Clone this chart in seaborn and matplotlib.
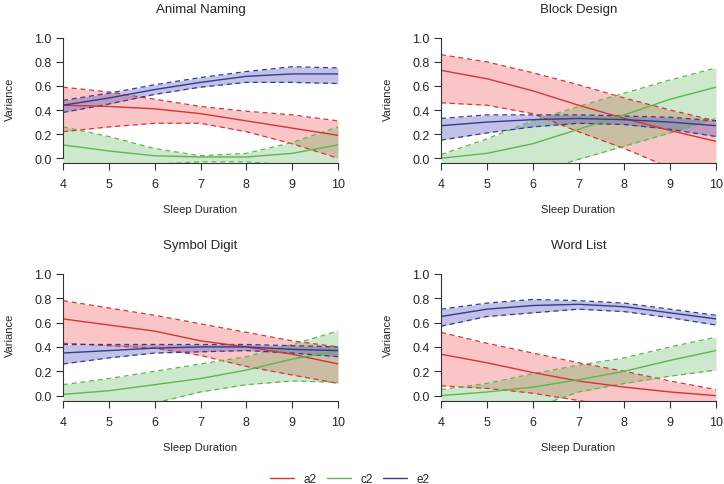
import matplotlib
matplotlib.use("Agg")
import matplotlib.pyplot as plt
import seaborn as sns
import pandas as pd
import numpy as np

sleep = [4, 5, 6, 7, 8, 9, 10]
panels = ["Animal Naming", "Block Design", "Symbol Digit", "Word List"]
components = ["a2", "c2", "e2"]

# Animal Naming
an_a2 = [0.44, 0.43, 0.41, 0.37, 0.31, 0.25, 0.19]
an_a2_lo = [0.22, 0.26, 0.29, 0.29, 0.22, 0.12, 0.00]
an_a2_hi = [0.59, 0.55, 0.49, 0.43, 0.39, 0.36, 0.31]
an_c2 = [0.11, 0.06, 0.02, 0.01, 0.01, 0.04, 0.11]
an_c2_lo = [-0.10, -0.08, -0.05, -0.03, -0.03, -0.06, -0.10]
an_c2_hi = [0.26, 0.18, 0.08, 0.02, 0.04, 0.13, 0.26]
an_e2 = [0.44, 0.50, 0.57, 0.63, 0.68, 0.70, 0.70]
an_e2_lo = [0.38, 0.45, 0.53, 0.59, 0.63, 0.63, 0.62]
an_e2_hi = [0.48, 0.54, 0.61, 0.67, 0.72, 0.76, 0.75]

# Block Design
bd_a2 = [0.73, 0.66, 0.56, 0.44, 0.33, 0.23, 0.14]
bd_a2_lo = [0.46, 0.44, 0.37, 0.22, 0.08, -0.08, -0.20]
bd_a2_hi = [0.86, 0.80, 0.71, 0.61, 0.50, 0.40, 0.31]
bd_c2 = [0.00, 0.04, 0.12, 0.24, 0.36, 0.49, 0.59]
bd_c2_lo = [-0.30, -0.22, -0.12, -0.01, 0.10, 0.21, 0.33]
bd_c2_hi = [0.03, 0.16, 0.31, 0.43, 0.54, 0.65, 0.75]
bd_e2 = [0.27, 0.30, 0.32, 0.33, 0.32, 0.30, 0.27]
bd_e2_lo = [0.15, 0.21, 0.26, 0.29, 0.28, 0.24, 0.18]
bd_e2_hi = [0.33, 0.36, 0.36, 0.36, 0.35, 0.34, 0.31]

# Symbol Digit
sd_a2 = [0.63, 0.58, 0.53, 0.45, 0.40, 0.34, 0.26]
sd_a2_lo = [0.43, 0.41, 0.39, 0.33, 0.24, 0.17, 0.10]
sd_a2_hi = [0.78, 0.72, 0.66, 0.59, 0.52, 0.45, 0.40]
sd_c2 = [0.01, 0.04, 0.09, 0.14, 0.21, 0.30, 0.37]
sd_c2_lo = [-0.30, -0.16, -0.06, 0.03, 0.09, 0.12, 0.11]
sd_c2_hi = [0.09, 0.14, 0.20, 0.26, 0.32, 0.42, 0.53]
sd_e2 = [0.35, 0.37, 0.39, 0.40, 0.40, 0.38, 0.37]
sd_e2_lo = [0.26, 0.31, 0.35, 0.36, 0.37, 0.35, 0.32]
sd_e2_hi = [0.42, 0.42, 0.42, 0.42, 0.42, 0.41, 0.40]

# Word List
wl_a2 = [0.34, 0.27, 0.19, 0.12, 0.07, 0.03, 0.00]
wl_a2_lo = [0.08, 0.06, 0.02, -0.04, -0.10, -0.15, -0.20]
wl_a2_hi = [0.52, 0.43, 0.35, 0.27, 0.20, 0.12, 0.05]
wl_c2 = [0.00, 0.03, 0.07, 0.13, 0.20, 0.29, 0.37]
wl_c2_lo = [-0.20, -0.14, -0.10, 0.03, 0.10, 0.16, 0.21]
wl_c2_hi = [0.05, 0.10, 0.18, 0.25, 0.31, 0.40, 0.48]
wl_e2 = [0.65, 0.71, 0.74, 0.75, 0.73, 0.68, 0.63]
wl_e2_lo = [0.57, 0.65, 0.68, 0.71, 0.69, 0.64, 0.58]
wl_e2_hi = [0.71, 0.76, 0.79, 0.78, 0.76, 0.71, 0.66]

data = {
    "Animal Naming": {"a2": (an_a2, an_a2_lo, an_a2_hi), "c2": (an_c2, an_c2_lo, an_c2_hi), "e2": (an_e2, an_e2_lo, an_e2_hi)},
    "Block Design": {"a2": (bd_a2, bd_a2_lo, bd_a2_hi), "c2": (bd_c2, bd_c2_lo, bd_c2_hi), "e2": (bd_e2, bd_e2_lo, bd_e2_hi)},
    "Symbol Digit": {"a2": (sd_a2, sd_a2_lo, sd_a2_hi), "c2": (sd_c2, sd_c2_lo, sd_c2_hi), "e2": (sd_e2, sd_e2_lo, sd_e2_hi)},
    "Word List": {"a2": (wl_a2, wl_a2_lo, wl_a2_hi), "c2": (wl_c2, wl_c2_lo, wl_c2_hi), "e2": (wl_e2, wl_e2_lo, wl_e2_hi)},
}

line_colors = {"a2": "#D93434", "c2": "#5DB64E", "e2": "#343C8C"}
fill_colors = {"a2": "#E8191C", "c2": "#4DAF4A", "e2": "#3737B4"}
fill_alpha = {"a2": 0.25, "c2": 0.28, "e2": 0.3}

sns.set_style("ticks")
plt.rcParams["font.family"] = ["Liberation Sans", "DejaVu Sans"]

fig = plt.figure(figsize=(7.24, 4.85), dpi=100)
W, H = 724, 485
boxes = [
    (63, 34, 338, 164),
    (441, 34, 716, 164),
    (63, 270, 338, 401.5),
    (441, 270, 716, 401.5),
]

for name, (x0, y0, x1, y1) in zip(panels, boxes):
    ax = fig.add_axes([x0 / W, 1 - y1 / H, (x1 - x0) / W, (y1 - y0) / H])
    rows = []
    for comp in components:
        m, lo, hi = data[name][comp]
        ax.fill_between(sleep, lo, hi, color=fill_colors[comp], alpha=fill_alpha[comp], lw=0)
        ax.plot(sleep, lo, color=line_colors[comp], lw=0.9, ls=(0, (4, 3)))
        ax.plot(sleep, hi, color=line_colors[comp], lw=0.9, ls=(0, (4, 3)))
        for s, v in zip(sleep, m):
            rows.append({"Sleep Duration": s, "Variance": v, "comp": comp})
    df = pd.DataFrame(rows)
    sns.lineplot(data=df, x="Sleep Duration", y="Variance", hue="comp",
                 palette=line_colors, ax=ax, legend=False, lw=1.0)
    ax.set_xlim(4, 10)
    ax.set_ylim(-0.04, 1.04)
    ax.set_xticks(sleep)
    ax.set_yticks([0, 0.2, 0.4, 0.6, 0.8, 1.0])
    ax.set_yticklabels(["0.0", "0.2", "0.4", "0.6", "0.8", "1.0"])
    ax.spines["top"].set_visible(False)
    ax.spines["right"].set_visible(False)
    ax.spines["left"].set_bounds(0, 1)
    ax.spines["left"].set_color("#333333")
    ax.spines["bottom"].set_color("#333333")
    ax.tick_params(axis="both", length=5, width=0.8, color="#333333", labelsize=9, pad=3)
    ax.tick_params(axis="x", pad=6)
    ax.set_xlabel("Sleep Duration", fontsize=8, labelpad=10)
    ax.set_ylabel("Variance", fontsize=8, labelpad=14)
    ax.set_title(name, fontsize=9.5, pad=15)

handles = [plt.Line2D([0], [0], color=line_colors[c], lw=1.0) for c in components]
fig.legend(handles, components, loc="lower center", bbox_to_anchor=(0.483, -0.025), ncol=3,
           frameon=False, fontsize=8.5, handlelength=2.0, columnspacing=0.9, handletextpad=0.8)

fig.savefig("out.png", dpi=100)
